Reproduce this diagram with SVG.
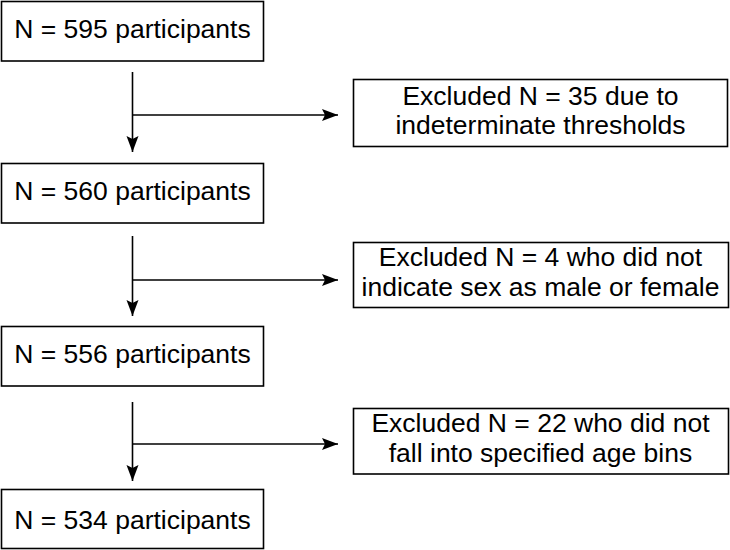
<svg xmlns="http://www.w3.org/2000/svg" width="730" height="550" viewBox="0 0 730 550">
<style>
.box{fill:#fff;stroke:#000;stroke-width:1.6}
.t{font-family:"Liberation Sans",Arial,sans-serif;font-size:26.5px;fill:#000;text-anchor:middle}
.c{fill:none;stroke:#000;stroke-width:1.6}
</style>
<defs>
<marker id="ah" markerUnits="userSpaceOnUse" markerWidth="18" markerHeight="14" refX="16" refY="7" orient="auto">
<path d="M0,1 L16,7 L0,13 L3,7 z" fill="#000"/>
</marker>
</defs>
<rect width="730" height="550" fill="#fff"/>
<g id="connectors">
<path class="c" d="M132.5,72 V152" marker-end="url(#ah)"/>
<path class="c" d="M132.5,115 H338" marker-end="url(#ah)"/>
<path class="c" d="M132.5,236 V316" marker-end="url(#ah)"/>
<path class="c" d="M132.5,280 H338" marker-end="url(#ah)"/>
<path class="c" d="M132.5,402 V481" marker-end="url(#ah)"/>
<path class="c" d="M132.5,444 H338" marker-end="url(#ah)"/>
</g>
<g id="n1"><rect class="box" x="1.5" y="1.5" width="262" height="59.5"/><text class="t" x="132.5" y="38">N = 595 participants</text></g>
<g id="n2"><rect class="box" x="1.5" y="163.5" width="262" height="59.5"/><text class="t" x="132.5" y="200">N = 560 participants</text></g>
<g id="n3"><rect class="box" x="1.5" y="326.5" width="262" height="59.5"/><text class="t" x="132.5" y="363">N = 556 participants</text></g>
<g id="n4"><rect class="box" x="1.5" y="489.5" width="262" height="59"/><text class="t" x="132.5" y="529">N = 534 participants</text></g>
<g id="e1"><rect class="box" x="353.5" y="79.5" width="374" height="67"/><text class="t" x="540.5" y="105">Excluded N = 35 due to</text><text class="t" x="540.5" y="134">indeterminate thresholds</text></g>
<g id="e2"><rect class="box" x="353.5" y="242.5" width="375" height="65"/><text class="t" x="540.5" y="266">Excluded N = 4 who did not</text><text class="t" x="540.5" y="296">indicate sex as male or female</text></g>
<g id="e3"><rect class="box" x="353.5" y="408.5" width="375" height="65.5"/><text class="t" x="540.5" y="432">Excluded N = 22 who did not</text><text class="t" x="540.5" y="462">fall into specified age bins</text></g>
</svg>
